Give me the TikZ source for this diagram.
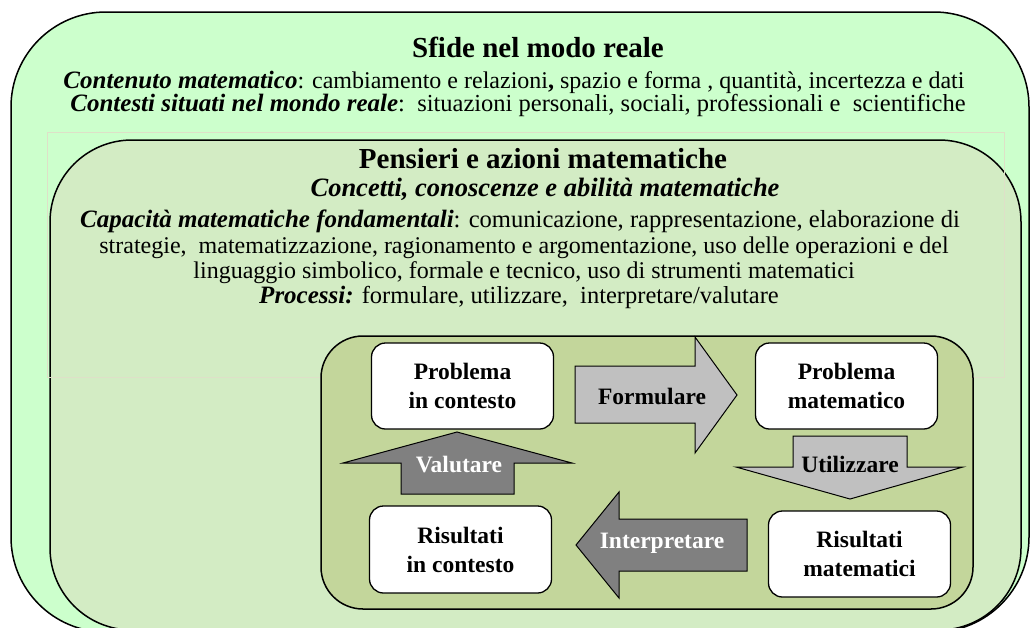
\documentclass[tikz,border=0pt]{standalone}
\usepackage{fontspec}
\setmainfont{Liberation Serif}
\definecolor{outerg}{RGB}{204,255,204}
\definecolor{midg}{RGB}{211,236,196}
\definecolor{oliveg}{RGB}{195,214,155}
\definecolor{faintc}{RGB}{222,224,200}
\definecolor{lgray}{RGB}{192,192,192}
\definecolor{dgray}{RGB}{128,128,128}
\newcommand{\ttlfont}{\fontsize{29}{29}\selectfont\bfseries}
\newcommand{\fsz}[1]{\fontsize{#1}{#1}\selectfont}
\newcommand{\bi}[1]{{\fontsize{25}{25}\selectfont\bfseries\itshape #1}}
\newcommand{\lblfont}{\fontsize{23.5}{29}\selectfont\bfseries}
\begin{document}
\begin{tikzpicture}[x=1pt,y=-1pt,
  box/.style={draw=black, line width=1.5pt, inner sep=0pt},
  wbox/.style={draw=black, line width=1.3pt, fill=white, rounded corners=14pt, inner sep=0pt, minimum width=182pt, minimum height=86pt},
  lbl/.style={align=center, font=\lblfont, inner sep=0pt},
  line/.style={anchor=base, inner sep=0pt},
  barrow/.style={draw=black, line width=1pt, line join=miter}
]
\useasboundingbox (0,0) rectangle (1032,627);
\clip (0,0) rectangle (1032,627);

% outer box
\node[box, fill=outerg, minimum width=1018pt, minimum height=620pt, rounded corners=95pt] (outerbox) at (520,322) {};
% second box
\node[box, fill=midg, minimum width=971pt, minimum height=490pt, rounded corners=82pt] (midbox) at (535.5,385) {};
% faint frame
\node[draw=faintc, line width=1pt, minimum width=957pt, minimum height=245pt, inner sep=0pt] (frame) at (525.5,254.5) {};
% olive box
\node[box, fill=oliveg, minimum width=652pt, minimum height=273pt, rounded corners=42pt] (olivebox) at (647,472.5) {};

% outer texts
\node[line] (t1) at (538,57) {\ttlfont Sfide nel modo reale};
\node[line] (t2) at (514,88) {\fsz{24}\bi{Contenuto matematico}: cambiamento e relazioni\textbf{,} spazio e forma , quantità, incertezza e dati};
\node[line] (t3) at (518,111) {\fsz{24.5}\bi{Contesti situati nel mondo reale}:\ \ situazioni personali, sociali, professionali e\ \ scientifiche};

% second box texts
\node[line] (p1) at (543,168) {\ttlfont Pensieri e azioni matematiche};
\node[line] (p2) at (545,196) {\fontsize{26.5}{26.5}\selectfont\bfseries\itshape Concetti, conoscenze e abilità matematiche};
\node[line] (p3) at (520,227) {\fsz{24.6}\bi{Capacità matematiche fondamentali}: comunicazione, rappresentazione, elaborazione di};
\node[line] (p4) at (524,253) {\fsz{24}strategie,\ \ matematizzazione, ragionamento e argomentazione, uso delle operazioni e del};
\node[line] (p5) at (524,278) {\fsz{24}linguaggio simbolico, formale e tecnico, uso di strumenti matematici};
\node[line] (p6) at (519,303) {\fsz{24.5}\bi{Processi:} formulare, utilizzare,\ \ interpretare/valutare};

% white boxes
\node[wbox] (pc) at (462.5,386) {};
\node[lbl] (pclbl) at (pc) {Problema\\in contesto};
\node[wbox] (pm) at (846.5,386) {};
\node[lbl] (pmlbl) at (pm) {Problema\\matematico};
\node[wbox, minimum height=87pt] (rc) at (460.5,549.5) {};
\node[lbl] (rclbl) at (rc) {Risultati\\in contesto};
\node[wbox] (rm) at (859.5,554) {};
\node[lbl] (rmlbl) at (rm) {Risultati\\matematici};

% block arrows
\draw[barrow, fill=lgray] (575,366) -- (695,366) -- (695,337) -- (737,395) -- (695,453) -- (695,423) -- (575,423) -- cycle;
\node[lbl] (formulare) at (652,396) {Formulare};

\draw[barrow, fill=lgray] (793,436) -- (907,436) -- (907,467) -- (963,467) -- (850,499) -- (736,467) -- (793,467) -- cycle;
\node[lbl] (utilizzare) at (850,464) {Utilizzare};

\draw[barrow, fill=dgray] (747,519) -- (619,519) -- (619,492) -- (576,545) -- (619,598) -- (619,571) -- (747,571) -- cycle;
\node[lbl, text=white] (interpretare) at (662,543) {Interpretare};

\draw[barrow, fill=dgray] (401,494) -- (514,494) -- (514,463) -- (572,463) -- (457,432) -- (343,463) -- (401,463) -- cycle;
\node[lbl, text=white] (valutare) at (459,465) {Valutare};
\end{tikzpicture}
\end{document}
